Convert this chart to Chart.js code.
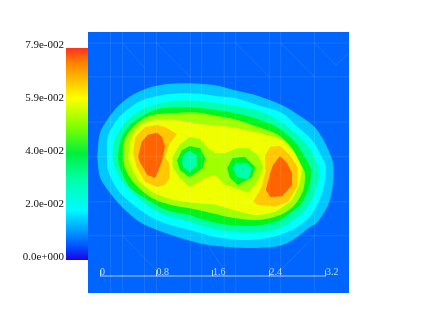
<!DOCTYPE html>
<html>
<head>
<meta charset="utf-8">
<script src="https://cdn.jsdelivr.net/npm/chart.js@4"></script>
<style>
html,body{margin:0;padding:0;background:#fff;overflow:hidden}
canvas{position:absolute;display:block}
#barCanvas{left:0;top:0}
#plotCanvas{left:88px;top:32px;background:rgb(0,100,255)}
</style>
</head>
<body>
<canvas id="barCanvas" width="88" height="326"></canvas>
<canvas id="plotCanvas" width="261" height="261"></canvas>
<script>
// colour bar
var barValues=[0,0.01975,0.0395,0.05925,0.079]
var barLabels=['0.0e+000','2.0e-002','4.0e-002','5.9e-002','7.9e-002']
var barStops=[[0,'rgb(30,0,230)'],[0.063,'rgb(0,80,255)'],[0.142,'rgb(0,160,255)'],[0.236,'rgb(0,250,255)'],[0.378,'rgb(0,255,170)'],[0.504,'rgb(0,240,60)'],[0.63,'rgb(130,255,0)'],[0.764,'rgb(255,255,0)'],[0.85,'rgb(255,190,0)'],[0.93,'rgb(255,130,0)'],[1,'rgb(255,50,30)']]

// ruler
var rulerTicks=[0,0.8,1.6,2.4,3.2]

// contour bands, x and y in ruler units
var band1=[[-0.04,1.69],[0,2.03],[0.10,2.21],[0.24,2.39],[0.42,2.54],[0.67,2.66],[0.95,2.72],[1.27,2.73],[1.63,2.70],[1.91,2.63],[2.24,2.55],[2.58,2.42],[2.86,2.25],[3.05,2.10],[3.19,1.88],[3.29,1.64],[3.31,1.50],[3.29,1.22],[3.22,0.98],[3.07,0.75],[2.97,0.69],[2.73,0.51],[2.55,0.43],[2.27,0.40],[1.98,0.40],[1.70,0.42],[1.42,0.46],[1.13,0.54],[0.81,0.65],[0.57,0.76],[0.33,0.96],[0.14,1.18],[0,1.40]]
var band2=[[0.10,1.69],[0.11,1.97],[0.24,2.21],[0.38,2.35],[0.57,2.48],[0.81,2.55],[1.09,2.59],[1.42,2.58],[1.63,2.55],[1.91,2.52],[2.24,2.42],[2.58,2.31],[2.80,2.11],[3.00,1.93],[3.14,1.69],[3.20,1.54],[3.17,1.26],[3.09,1.03],[2.97,0.84],[2.79,0.69],[2.55,0.58],[2.27,0.52],[1.98,0.51],[1.70,0.54],[1.42,0.61],[1.27,0.65],[0.81,0.79],[0.47,1.01],[0.25,1.22],[0.11,1.50]]
var band3=[[0.18,1.69],[0.21,1.93],[0.33,2.14],[0.52,2.32],[0.75,2.42],[1.03,2.48],[1.37,2.48],[1.63,2.45],[1.91,2.41],[2.24,2.34],[2.52,2.21],[2.76,2.03],[2.95,1.83],[3.07,1.60],[3.10,1.43],[3.07,1.26],[3.00,1.08],[2.86,0.89],[2.73,0.79],[2.55,0.68],[2.27,0.62],[1.98,0.62],[1.70,0.65],[1.42,0.72],[1.09,0.82],[0.81,0.91],[0.57,1.08],[0.33,1.32],[0.21,1.54]]
var band4=[[0.25,1.69],[0.31,1.97],[0.47,2.18],[0.78,2.35],[1.09,2.39],[1.42,2.38],[1.63,2.35],[1.91,2.31],[2.24,2.22],[2.52,2.10],[2.76,1.90],[2.90,1.69],[2.99,1.50],[2.96,1.26],[2.86,1.03],[2.69,0.89],[2.55,0.79],[2.27,0.72],[1.98,0.71],[1.70,0.74],[1.42,0.81],[1.27,0.86],[0.95,0.93],[0.67,1.08],[0.42,1.26],[0.28,1.54]]
var band5=[[0.33,1.69],[0.35,1.93],[0.47,2.11],[0.64,2.24],[0.81,2.29],[1.09,2.31],[1.42,2.31],[1.63,2.27],[1.91,2.22],[2.24,2.11],[2.52,2.00],[2.72,1.81],[2.83,1.60],[2.90,1.47],[2.88,1.22],[2.76,1.01],[2.59,0.88],[2.37,0.81],[2.20,0.79],[1.98,0.81],[1.74,0.85],[1.63,0.88],[1.27,0.96],[0.99,1.01],[0.71,1.12],[0.47,1.33],[0.35,1.54]]
var band6=[[0.40,1.69],[0.44,1.97],[0.57,2.14],[0.81,2.22],[1.09,2.21],[1.42,2.15],[1.63,2.14],[1.91,2.10],[2.24,2.03],[2.58,1.93],[2.76,1.74],[2.86,1.54],[2.83,1.32],[2.72,1.08],[2.48,0.91],[2.20,0.86],[1.91,0.93],[1.63,1.01],[1.37,1.03],[1.03,1.08],[0.75,1.18],[0.54,1.36],[0.42,1.60]]
var lobes=[[1.03,1.69],[1.13,1.86],[1.27,1.97],[1.42,1.94],[1.53,1.81],[1.63,1.74],[1.77,1.74],[1.94,1.81],[2.10,1.81],[2.24,1.71],[2.31,1.54],[2.24,1.36],[2.10,1.18],[1.88,1.26],[1.77,1.29],[1.63,1.43],[1.49,1.39],[1.27,1.26],[1.13,1.39],[1.03,1.54]]
var ringA=[[1.09,1.64],[1.16,1.78],[1.27,1.84],[1.42,1.81],[1.49,1.67],[1.46,1.53],[1.27,1.40],[1.13,1.50]]
var coreA=[[1.16,1.64],[1.20,1.73],[1.27,1.77],[1.37,1.71],[1.37,1.57],[1.27,1.47],[1.18,1.54]]
var ringB=[[1.80,1.53],[1.88,1.67],[2.05,1.69],[2.20,1.54],[2.15,1.39],[1.95,1.29],[1.84,1.39]]
var coreB=[[1.88,1.53],[1.94,1.60],[2.08,1.60],[2.15,1.53],[2.10,1.37],[1.95,1.40]]
var peakOuterL=[[0.47,1.74],[0.50,1.97],[0.64,2.11],[0.81,2.14],[0.92,2.11],[1.09,2.01],[0.99,1.88],[0.92,1.69],[0.98,1.60],[0.99,1.39],[0.92,1.29],[0.81,1.26],[0.64,1.33],[0.52,1.54]]
var peakInnerL=[[0.54,1.69],[0.59,1.90],[0.68,2.00],[0.81,2.03],[0.88,1.97],[0.92,1.83],[0.88,1.64],[0.82,1.47],[0.78,1.39],[0.67,1.43],[0.57,1.60]]
var peakOuterR=[[2.34,1.71],[2.41,1.83],[2.55,1.84],[2.69,1.71],[2.80,1.54],[2.79,1.26],[2.66,1.05],[2.48,0.98],[2.24,1.01],[2.17,1.05],[2.29,1.26],[2.35,1.50]]
var peakInnerR=[[2.55,1.70],[2.65,1.60],[2.72,1.46],[2.72,1.29],[2.58,1.13],[2.41,1.12],[2.35,1.22],[2.41,1.46],[2.45,1.57]]

// faint mesh
var meshX=[0.15,0.32,0.63,0.80,1.28,1.44,1.76,1.92,2.40,2.56,3.04]
var meshY=[3.30,2.82,2.18,1.69,1.05,0.57]
var meshDiag=[[0.80,3.30,1.28,2.82],[1.92,3.30,2.40,2.82],[0.32,3.30,0.63,2.95],[2.56,3.30,3.04,2.82],[3.04,3.30,3.34,2.99],[3.34,2.99,3.53,3.16],[2.56,0.08,3.04,0.57],[0.32,0.57,0.80,0.08],[1.44,0.57,1.76,0.08]]

var xMin=-0.17, xMax=3.527, yMin=-0.241, yMax=3.456

function toPoints(list){
	var pts=list.map(function(p){ return {x:p[0],y:p[1]} })
	pts.push({x:list[0][0],y:list[0][1]})
	return pts
}

function bandSet(list,color,tension){
	return {data:toPoints(list),backgroundColor:color,borderColor:color,borderWidth:0,fill:'shape',showLine:true,pointRadius:0,spanGaps:false,tension:tension||0}
}

function meshPoints(){
	var pts=[]
	meshX.forEach(function(x){ pts.push({x:x,y:yMin},{x:x,y:yMax},{x:x,y:null}) })
	meshY.forEach(function(y){ pts.push({x:xMin,y:y},{x:xMax,y:y},{x:xMax,y:null}) })
	meshDiag.forEach(function(d){ pts.push({x:d[0],y:d[1]},{x:d[2],y:d[3]},{x:d[2],y:null}) })
	return pts
}

var C1='rgb(0,200,255)',C2='rgb(0,255,255)',C3='rgb(0,255,170)',C4='rgb(0,245,30)',C5='rgb(160,255,0)',C6='rgb(240,255,0)',C7='rgb(255,200,0)',C8='rgb(255,100,0)'

// first dataset ends up on top
new Chart(document.getElementById('plotCanvas').getContext('2d'),{
	type:'scatter',
	data:{datasets:[
		{data:[{x:rulerTicks[0],y:0},{x:rulerTicks[4],y:0}],borderColor:'rgba(255,255,255,0.7)',borderWidth:1,showLine:true,pointRadius:0},
		{data:meshPoints(),borderColor:'rgba(255,255,255,0.1)',borderWidth:1,showLine:true,pointRadius:0,spanGaps:false},
		bandSet(coreA,C3),bandSet(coreB,C3),bandSet(ringA,C4),bandSet(ringB,C4),bandSet(lobes,C5),
		bandSet(peakInnerL,C8),bandSet(peakInnerR,C8),bandSet(peakOuterL,C7),bandSet(peakOuterR,C7),
		bandSet(band6,C6,0.15),bandSet(band5,C5,0.3),bandSet(band4,C4,0.3),bandSet(band3,C3,0.3),bandSet(band2,C2,0.3),bandSet(band1,C1,0.3)
	]},
	options:{
		responsive:false,
		animation:false,
		layout:{padding:0},
		plugins:{legend:{display:false},tooltip:{enabled:false}},
		scales:{
			x:{type:'linear',min:xMin,max:xMax,position:{y:0},
				afterBuildTicks:function(scale){ scale.ticks=rulerTicks.map(function(v){ return {value:v} }) },
				border:{display:false},
				grid:{drawOnChartArea:false,drawTicks:true,tickLength:-6,color:'rgba(255,255,255,0.7)'},
				ticks:{align:'start',maxRotation:0,autoSkip:false,padding:-4,color:'rgba(255,255,255,0.75)',font:{family:'"Liberation Serif"',size:10},
					callback:function(v){ return String(v) }}
			},
			y:{type:'linear',min:yMin,max:yMax,display:false}
		}
	}
})

new Chart(document.getElementById('barCanvas').getContext('2d'),{
	type:'bar',
	data:{labels:[''],datasets:[{
		data:[[barValues[0],barValues[4]]],
		barPercentage:1,categoryPercentage:1,
		backgroundColor:function(ctx){
			var area=ctx.chart.chartArea
			if(!area) return 'transparent'
			var g=ctx.chart.ctx.createLinearGradient(0,area.bottom,0,area.top)
			barStops.forEach(function(s){ g.addColorStop(s[0],s[1]) })
			return g
		}
	}]},
	options:{
		responsive:false,
		animation:false,
		layout:{padding:{top:48,bottom:66,left:0,right:0}},
		plugins:{legend:{display:false},tooltip:{enabled:false}},
		scales:{
			x:{display:false},
			y:{min:0,max:0.079,
				afterFit:function(scale){ scale.width=66 },
				afterBuildTicks:function(scale){ scale.ticks=barValues.map(function(v){ return {value:v} }) },
				border:{display:false},
				grid:{display:false,drawTicks:false},
				ticks:{padding:2,labelOffset:-3,color:'#111',font:{family:'"Liberation Serif"',size:11},
					callback:function(v,i){ return barLabels[i] }}
			}
		}
	}
})
</script>
</body>
</html>
